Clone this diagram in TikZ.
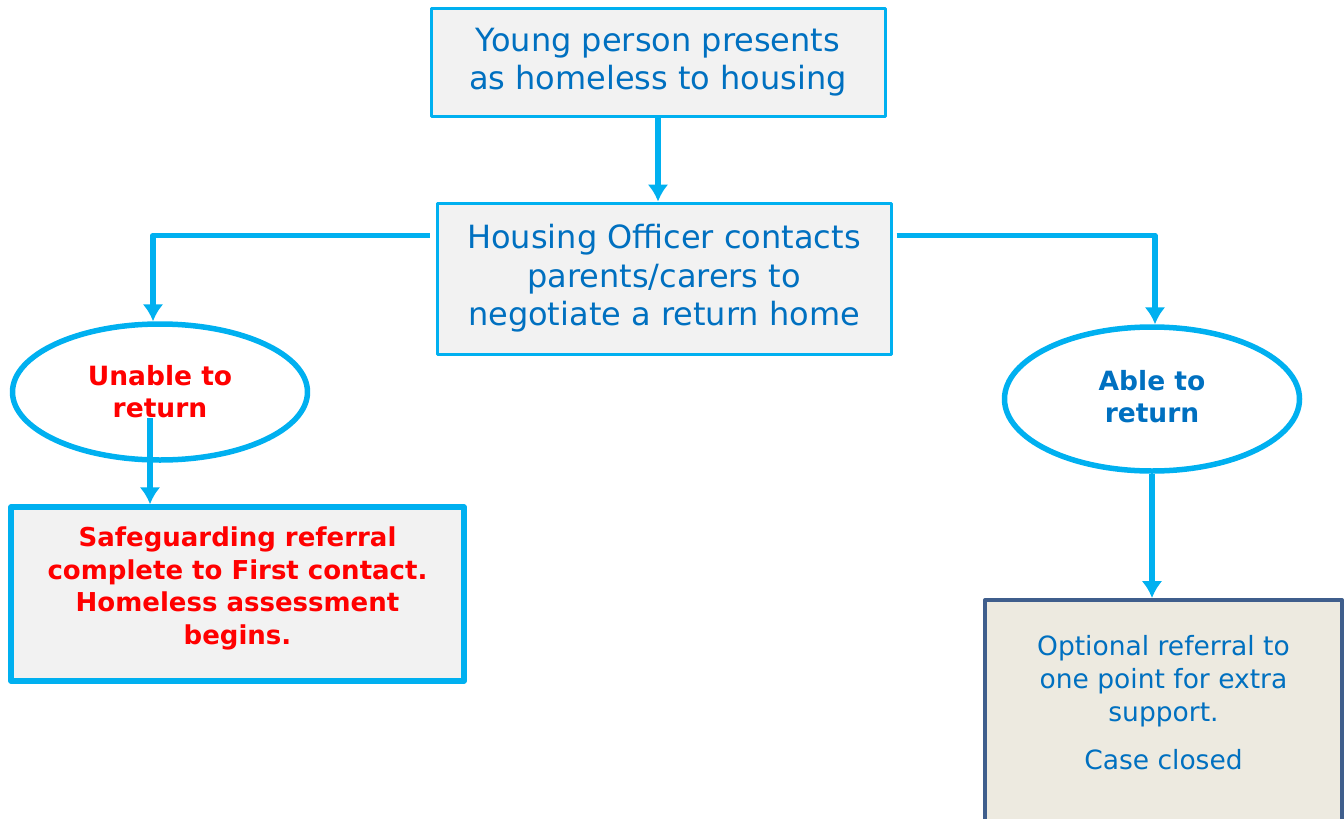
\documentclass[tikz,border=0pt]{standalone}
\usepackage{fontspec}
\setmainfont{DejaVu Sans}
\usetikzlibrary{arrows.meta,shapes.geometric,calc}
\definecolor{linkcyan}{HTML}{00B0F0}
\definecolor{textblue}{HTML}{0070C0}
\definecolor{boxgrey}{HTML}{F2F2F2}
\definecolor{framenavy}{HTML}{3F5E8C}
\definecolor{boxbeige}{HTML}{EDEAE0}
\tikzset{>={Latex[length=17pt,width=21pt]}}

\begin{document}
\begin{tikzpicture}[x=1pt, y=-1pt, line join=round,
    flowbox/.style={draw=linkcyan, fill=boxgrey, line width=3pt, text=textblue, align=center, inner sep=0pt, font=\fontsize{32}{38.5}\selectfont},
    outcome/.style={ellipse, draw=linkcyan, line width=5.5pt, inner sep=0pt, minimum width=295, minimum height=136, align=center, font=\bfseries\fontsize{26.5}{32}\selectfont},
    link/.style={->, draw=linkcyan, line width=5.5pt}]
    \useasboundingbox (0,0) rectangle (1344,819);
    \node[flowbox, minimum width=454, minimum height=108] (young) at (658,62) {Young person presents\\as homeless to housing};
    \node[flowbox, minimum width=454, minimum height=151] (officer) at (664,278.5) {Housing Officer contacts\\parents/carers to\\negotiate a return home};
    \node[outcome, text=red] (unable) at (160,392) {Unable to\\return};
    \node[outcome, text=textblue, minimum height=144] (able) at (1152,399) {Able to\\return\\[-26pt]\mbox{}};
    \node[flowbox, line width=5.5pt, text=red, minimum width=453, minimum height=174, font=\bfseries\fontsize{26}{32.5}\selectfont] (safe) at (237.5,594) {Safeguarding referral\\complete to First contact.\\Homeless assessment\\begins.\\[-16pt]\mbox{}};
    \node[draw=framenavy, fill=boxbeige, line width=4pt, text=textblue, align=center, inner sep=0pt, minimum width=357, minimum height=232, font=\fontsize{26.5}{33}\selectfont] (optional) at (1163.5,716) {Optional referral to\\one point for extra\\support.\\[15pt]Case closed\\[-5pt]\mbox{}};
    \coordinate (leftstart) at ($(officer.north west)!0.22!(officer.south west)$);
    \coordinate (rightstart) at ($(officer.north east)!0.22!(officer.south east)$);
    \coordinate (unabledrop) at ($(unable.center)+(-10,26)$);
    \draw[link] (young.south) -- (young.south |- officer.north);
    \draw[link] ([xshift=-6pt]leftstart) -| ([xshift=-7pt]unable.north);
    \draw[link] ([xshift=4pt]rightstart) -| ([xshift=3pt]able.north);
    \draw[link] (unabledrop) -- (unabledrop |- safe.north);
    \draw[link] (able.south) -- (able.south |- optional.north);
\end{tikzpicture}
\end{document}
